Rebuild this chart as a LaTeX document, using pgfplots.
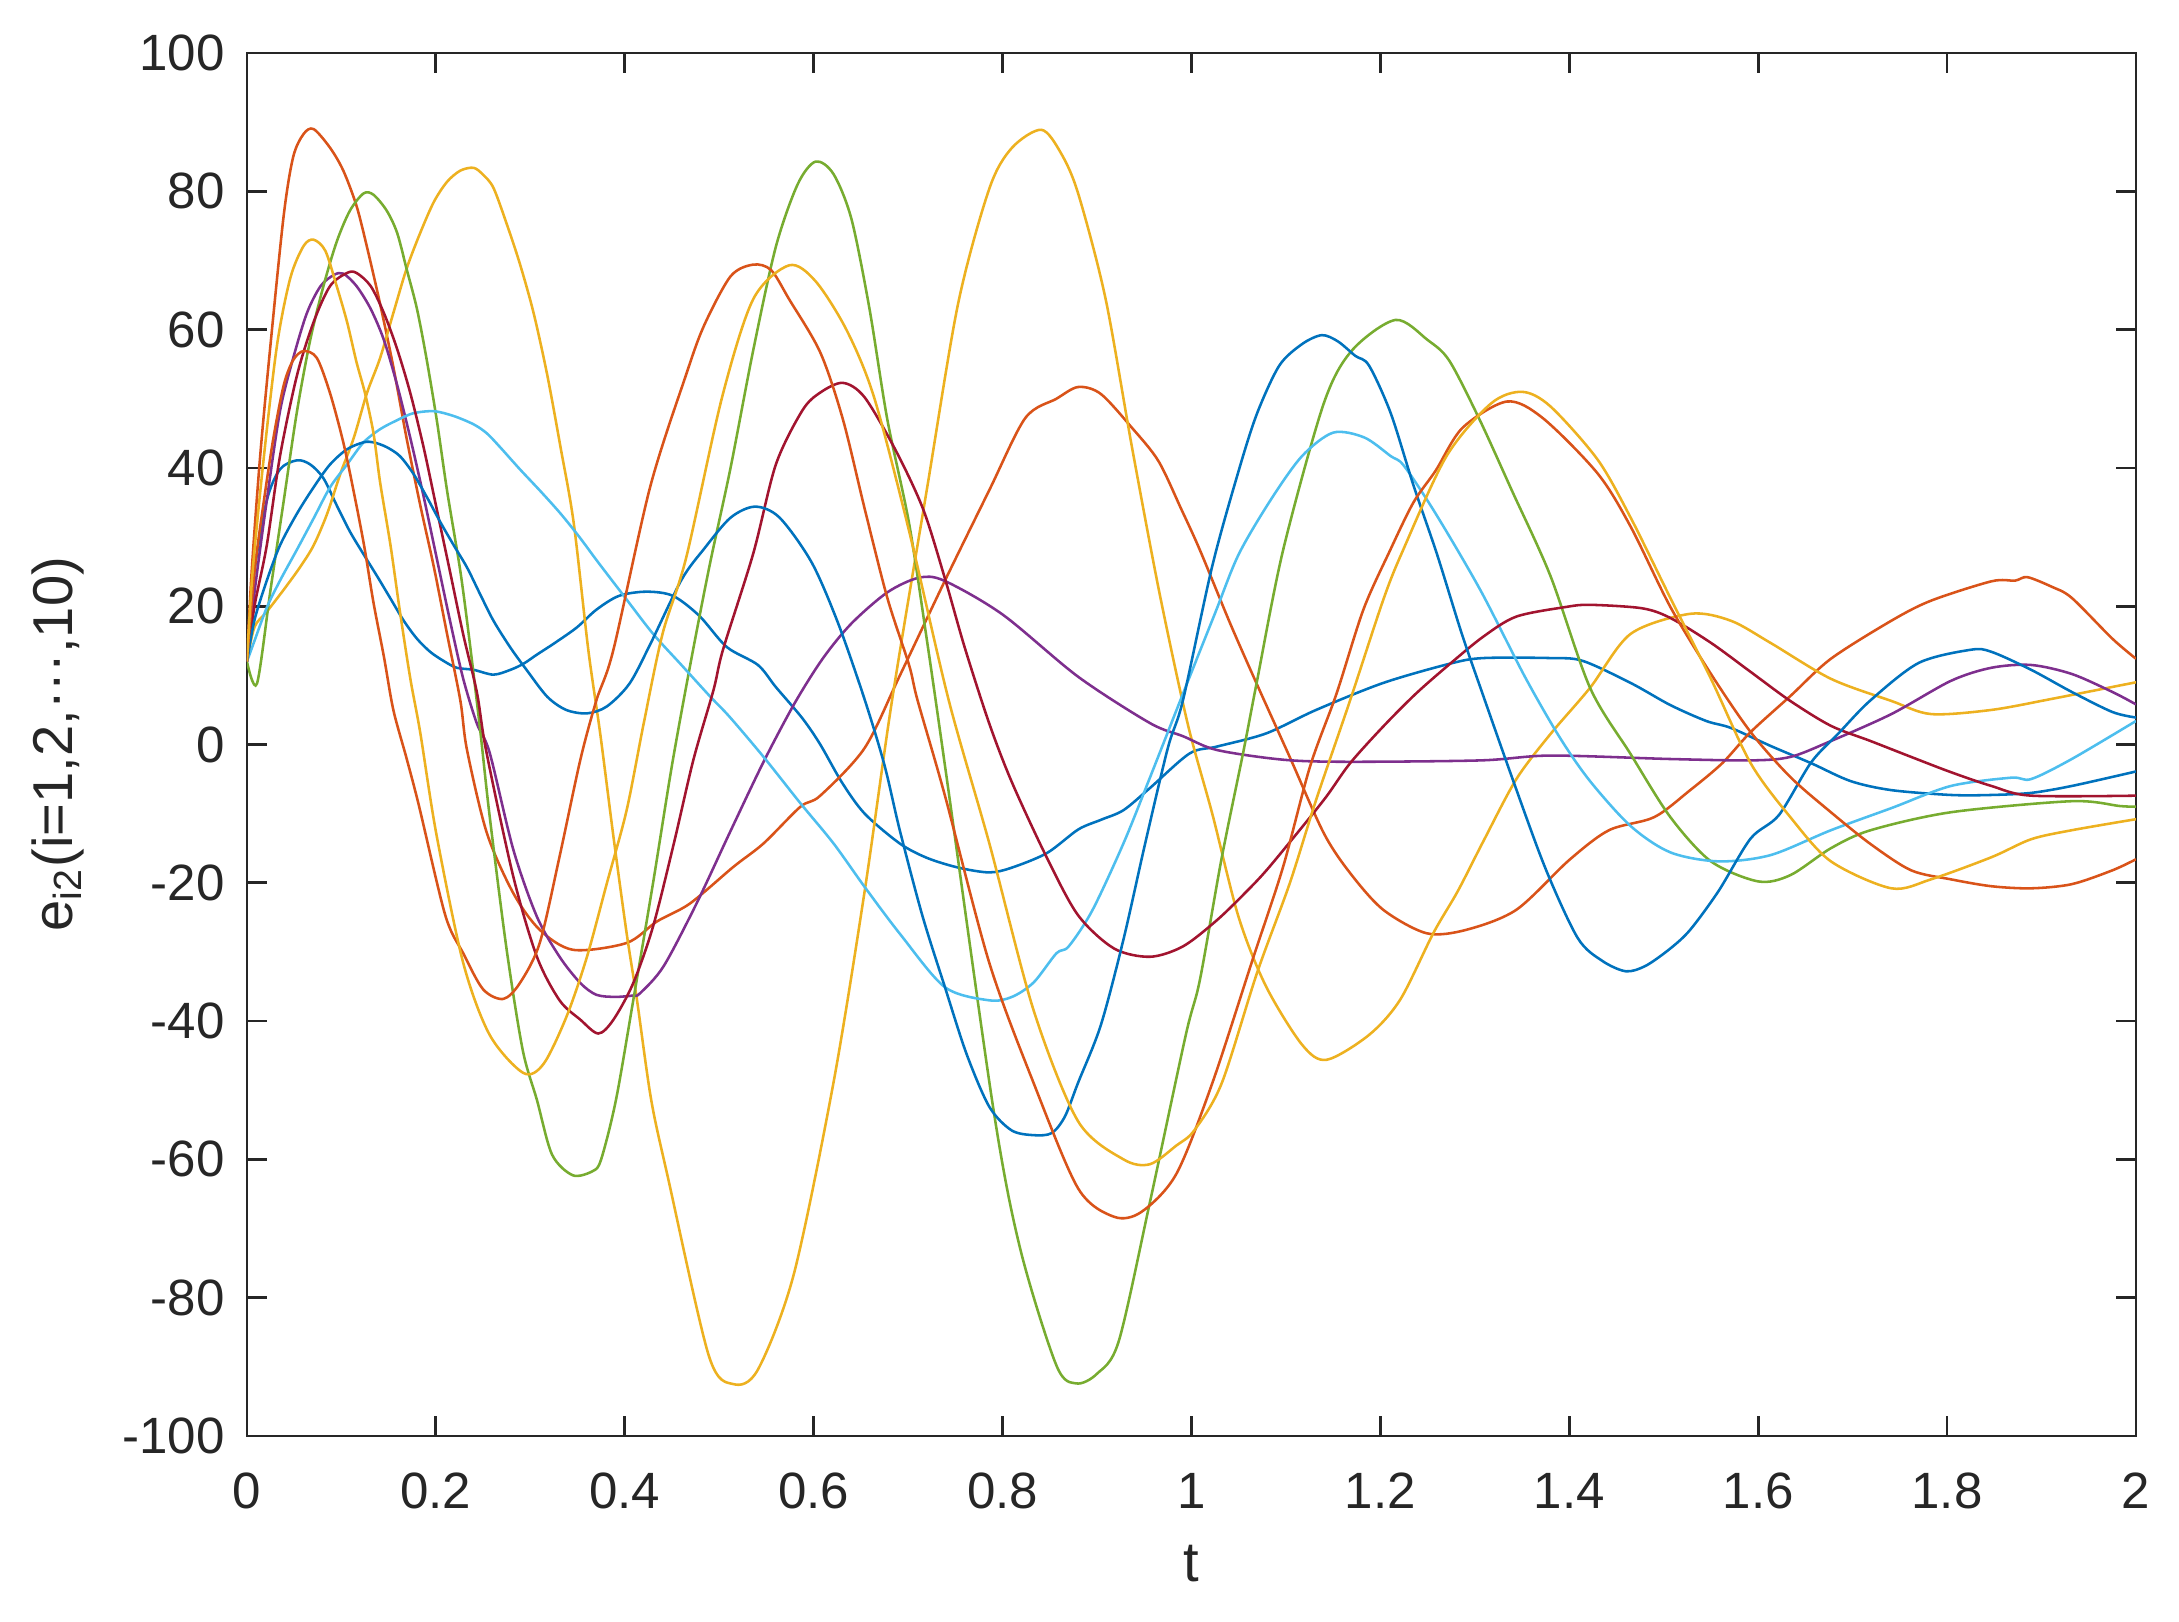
\documentclass[border=0pt]{standalone}
\usepackage{fontspec}
\setmainfont{Liberation Sans}
\usepackage{pgfplots}
\pgfplotsset{compat=1.18}

% MATLAB default line colours
\definecolor{c1}{rgb}{0,0.447,0.741}
\definecolor{c2}{rgb}{0.85,0.325,0.098}
\definecolor{c3}{rgb}{0.929,0.694,0.125}
\definecolor{c4}{rgb}{0.494,0.184,0.556}
\definecolor{c5}{rgb}{0.466,0.674,0.188}
\definecolor{c6}{rgb}{0.301,0.745,0.933}
\definecolor{c7}{rgb}{0.635,0.078,0.184}
\definecolor{axgray}{rgb}{0.15,0.15,0.15}

\begin{document}
\begin{tikzpicture}
\begin{axis}[
  scale only axis, width=130.04mm, height=95.2mm,
  xmin=0, xmax=2, ymin=-100, ymax=100,
  xtick={0,0.2,0.4,0.6,0.8,1,1.2,1.4,1.6,1.8,2},
  ytick={-100,-80,-60,-40,-20,0,20,40,60,80,100},
  xtick pos=both, ytick pos=both, tick align=inside,
  major tick length=1.38mm,
  axis line style={axgray, line width=0.55pt},
  tick style={axgray, line width=0.55pt},
  /pgf/number format/assume math mode=true,
  ticklabel style={font=\fontsize{10}{12}\selectfont, text=axgray},
  xticklabel style={yshift=-1.3mm},
  yticklabel style={xshift=-0.3mm},
  xlabel={t},
  ylabel={e\textsubscript{i2}(i=1,2,\textperiodcentered\textperiodcentered\textperiodcentered,10)},
  label style={font=\fontsize{11}{13}\selectfont, text=axgray},
  xlabel style={at={(axis description cs:0.5,-0.092)}, anchor=center},
  ylabel style={at={(axis description cs:-0.1,0.5)}, anchor=center},
  every axis plot/.style={line width=0.5pt, mark=none, smooth, tension=0.5},
]
% 1 blue
\addplot[c1] coordinates {(0,12) (0.008,25) (0.021,35.3) (0.035,39.8) (0.053,41.1) (0.067,40.5) (0.081,38.5) (0.095,34.6) (0.109,30.8) (0.1235,27.5) (0.138,24.3) (0.152,21.1) (0.166,17.9) (0.18,15.3) (0.194,13.4) (0.208,12.1) (0.222,11.1) (0.24,10.8) (0.261,10.1) (0.279,10.8) (0.293,11.7) (0.307,13) (0.325,14.6) (0.349,16.9) (0.37,19.5) (0.394,21.5) (0.423,22.1) (0.451,21.5) (0.479,18.6) (0.508,14.1) (0.541,11.5) (0.56,8.3) (0.588,3.8) (0.607,0) (0.63,-5.5) (0.654,-10) (0.691,-14.3) (0.72,-16.4) (0.753,-17.8) (0.786,-18.5) (0.81,-17.8) (0.847,-15.7) (0.88,-12.3) (0.904,-10.9) (0.928,-9.5) (0.956,-6.3) (0.998,-1.3) (1.027,-0.3) (1.079,1.6) (1.132,5) (1.203,8.9) (1.274,11.7) (1.309,12.5) (1.38,12.5) (1.414,12.1) (1.465,8.9) (1.507,5.7) (1.545,3.4) (1.571,2.4) (1.613,-0.2) (1.656,-2.7) (1.698,-5.3) (1.741,-6.6) (1.804,-7.3) (1.847,-7.3) (1.889,-7) (1.932,-6) (2.0,-3.9)};
% 2 orange
\addplot[c2] coordinates {(0,12) (0.005,25) (0.014,41.7) (0.025,57.9) (0.039,76.6) (0.049,85) (0.06,88.3) (0.0706,89) (0.088,86.3) (0.102,83) (0.116,77.9) (0.127,72) (0.141,63.7) (0.155,54.6) (0.169,44.3) (0.1835,34.6) (0.198,25.6) (0.212,15.9) (0.226,6.3) (0.233,-0.8) (0.254,-12.8) (0.282,-21.5) (0.31,-26.8) (0.3455,-29.7) (0.402,-28.7) (0.434,-25.6) (0.469,-23) (0.515,-17.7) (0.547,-14.3) (0.586,-9) (0.607,-7.4) (0.654,-0.5) (0.691,9.9) (0.739,23.7) (0.786,36.8) (0.824,47.2) (0.857,50) (0.88,51.7) (0.904,50.7) (0.937,45.8) (0.965,41) (0.989,34.1) (1.009,28.1) (1.041,17.5) (1.069,8.8) (1.104,-1.8) (1.14,-12.8) (1.168,-18.6) (1.203,-23.9) (1.249,-27.3) (1.291,-26.8) (1.344,-23.9) (1.4,-16.7) (1.442,-12.4) (1.49,-10.5) (1.528,-6.6) (1.562,-2.7) (1.592,1.8) (1.634,7) (1.677,12.4) (1.741,17.9) (1.783,20.8) (1.847,23.6) (1.872,23.7) (1.885,24.2) (1.911,22.8) (1.932,21.2) (1.975,15.3) (2.0,12.4)};
% 3 yellow
\addplot[c3] coordinates {(0,12) (0.008,17) (0.021,19.2) (0.039,22.4) (0.056,25.6) (0.0706,28.8) (0.085,33.4) (0.099,39.2) (0.113,44.3) (0.127,50.8) (0.141,55.9) (0.155,62.4) (0.169,68.8) (0.1835,74) (0.198,78.5) (0.212,81.4) (0.226,83) (0.24,83.4) (0.25,82.4) (0.261,80.5) (0.275,75.3) (0.289,69.5) (0.3035,62.4) (0.318,53.4) (0.332,43) (0.346,32) (0.3614,13.7) (0.374,1.6) (0.388,-13.3) (0.402,-27.3) (0.413,-37) (0.428,-51.4) (0.446,-62.8) (0.489,-88.4) (0.515,-92.5) (0.541,-90.4) (0.579,-76.6) (0.621,-48.9) (0.654,-21.2) (0.683,6.4) (0.72,37) (0.753,63.8) (0.786,80.4) (0.81,86.3) (0.841,88.9) (0.8615,85.6) (0.88,79.7) (0.909,64.5) (0.937,43) (0.966,22) (0.996,3) (1.022,-10) (1.05,-25) (1.079,-35) (1.117,-43.4) (1.143,-45.6) (1.188,-42) (1.221,-36.9) (1.256,-27.3) (1.282,-21.2) (1.309,-14) (1.344,-5) (1.38,1.5) (1.422,8.2) (1.465,16) (1.528,18.9) (1.571,17.9) (1.613,14.7) (1.677,9.5) (1.741,6.3) (1.783,4.4) (1.847,5) (1.911,6.6) (2.0,9.0)};
% 4 purple
\addplot[c4] coordinates {(0,12) (0.008,22) (0.021,35.3) (0.035,48.2) (0.049,55.9) (0.0635,62.4) (0.078,66.3) (0.092,67.9) (0.102,68.1) (0.116,66.3) (0.131,63) (0.145,58.5) (0.159,52) (0.173,44.3) (0.187,35.9) (0.201,26.9) (0.215,17.9) (0.229,9.5) (0.2435,3) (0.257,-1.2) (0.282,-15.2) (0.307,-24.9) (0.331,-30.7) (0.353,-34.5) (0.37,-36.2) (0.39,-36.5) (0.409,-36.3) (0.416,-36) (0.441,-32.1) (0.476,-23) (0.511,-12.8) (0.547,-2.5) (0.58,6) (0.61,12.5) (0.64,17.5) (0.678,22) (0.711,24.1) (0.738,23.7) (0.8,18.8) (0.88,9.8) (0.956,3.1) (0.991,1.2) (1.027,-0.8) (1.097,-2.2) (1.164,-2.5) (1.306,-2.3) (1.38,-1.6) (1.507,-2.1) (1.592,-2.3) (1.634,-1.8) (1.677,0.5) (1.741,4.4) (1.804,9.2) (1.847,11.1) (1.889,11.5) (1.932,10.2) (1.975,7.6) (2.0,5.8)};
% 5 green
\addplot[c5] coordinates {(0,12) (0.0106,8.8) (0.025,22.4) (0.039,35.3) (0.053,48.2) (0.067,58.5) (0.081,66.3) (0.095,72.7) (0.109,77.2) (0.1235,79.7) (0.134,79.5) (0.148,77.2) (0.159,74) (0.169,68.8) (0.18,63) (0.19,55.9) (0.201,46.9) (0.212,36.6) (0.226,25) (0.236,14.6) (0.247,2) (0.257,-10.4) (0.275,-29.7) (0.292,-44.2) (0.307,-51.4) (0.323,-59.3) (0.345,-62.3) (0.366,-61.7) (0.375,-60) (0.3907,-51.4) (0.409,-37) (0.43,-20) (0.45,-3) (0.47,12) (0.49,26) (0.512,40) (0.536,57) (0.56,72) (0.583,81) (0.602,84.3) (0.621,82.5) (0.64,76) (0.659,63.1) (0.678,47) (0.701,32) (0.72,15) (0.74,-4) (0.7906,-53) (0.819,-73.1) (0.857,-89.8) (0.878,-92.4) (0.9,-91) (0.923,-86.3) (0.956,-66.2) (0.994,-42) (1.009,-34) (1.032,-16.4) (1.055,-1) (1.069,8.9) (1.097,28.1) (1.14,49.3) (1.17,57) (1.216,61.4) (1.25,58.5) (1.273,55.5) (1.305,47) (1.339,36.8) (1.38,24.4) (1.422,8.2) (1.465,-1.4) (1.507,-10.5) (1.55,-16.9) (1.6,-19.8) (1.634,-18.9) (1.677,-15) (1.719,-12.4) (1.804,-9.8) (1.932,-8.2) (1.983,-8.9) (2.0,-9)};
% 6 light blue
\addplot[c6] coordinates {(0,12) (0.008,15) (0.021,19.8) (0.035,23.7) (0.053,28.2) (0.0706,32.7) (0.088,37.2) (0.106,40.5) (0.1235,43.7) (0.141,45.6) (0.159,46.9) (0.176,47.9) (0.198,48.2) (0.219,47.5) (0.24,46.3) (0.254,45) (0.268,43) (0.289,39.8) (0.311,36.6) (0.332,33.4) (0.352,30) (0.371,26.5) (0.399,21.5) (0.43,16) (0.46,11.5) (0.49,7) (0.511,4) (0.547,-1.8) (0.586,-8.5) (0.621,-14.3) (0.654,-20.6) (0.692,-27.5) (0.739,-35.1) (0.786,-37) (0.81,-36.5) (0.833,-34.4) (0.857,-30.2) (0.87,-29.2) (0.895,-24) (0.928,-14.3) (0.956,-4.8) (0.99,7) (1.025,19) (1.05,27.5) (1.084,35.4) (1.117,41.7) (1.15,45.1) (1.183,44.4) (1.211,41.7) (1.225,40.3) (1.2585,33.4) (1.306,22.3) (1.353,9.8) (1.39,1) (1.422,-5.3) (1.465,-11.8) (1.507,-15.6) (1.558,-16.9) (1.613,-16) (1.677,-12.4) (1.741,-9.2) (1.804,-6) (1.868,-4.8) (1.889,-5) (1.932,-2.1) (2.0,3.4)};
% 7 dark red
\addplot[c7] coordinates {(0,12) (0.008,20) (0.021,28.8) (0.035,41.7) (0.053,53.4) (0.0706,61.1) (0.088,66.3) (0.106,68.2) (0.116,68.2) (0.131,66.3) (0.145,62.4) (0.159,57.2) (0.173,50.8) (0.187,43) (0.201,34) (0.215,25) (0.229,15.9) (0.2435,7.5) (0.2534,-1) (0.282,-19.1) (0.307,-30.7) (0.331,-37) (0.353,-39.8) (0.372,-41.8) (0.388,-39.8) (0.409,-34.5) (0.43,-26.3) (0.452,-14.3) (0.4727,-2.2) (0.494,7.9) (0.504,13.7) (0.536,27.6) (0.56,40.5) (0.588,48.3) (0.607,50.9) (0.631,52.3) (0.654,50.2) (0.687,42.5) (0.716,34) (0.739,24) (0.76,14) (0.786,3) (0.81,-5.5) (0.847,-16.4) (0.88,-24.7) (0.918,-29.5) (0.956,-30.7) (0.991,-29.2) (1.027,-25.4) (1.058,-21.3) (1.08,-18.1) (1.115,-12.3) (1.143,-7.5) (1.168,-2.7) (1.203,2.6) (1.238,7.4) (1.274,11.7) (1.309,15.6) (1.344,18.5) (1.397,19.9) (1.422,20.2) (1.477,19.7) (1.507,18.3) (1.55,14.7) (1.592,10.5) (1.634,6.3) (1.677,2.7) (1.719,0.5) (1.762,-1.8) (1.804,-4) (1.847,-6) (1.889,-7.4) (2.0,-7.4)};
% 8 blue
\addplot[c1] coordinates {(0,12) (0.008,18) (0.021,23.7) (0.035,28.8) (0.053,33.4) (0.0706,37.2) (0.088,40.5) (0.106,42.7) (0.1235,43.7) (0.134,43.7) (0.148,43) (0.162,41.7) (0.176,39.2) (0.19,35.9) (0.205,32.1) (0.219,28.8) (0.233,25.6) (0.247,21.7) (0.261,17.9) (0.279,14) (0.296,10.8) (0.318,6.9) (0.338,5) (0.36,4.5) (0.381,5.5) (0.405,8.8) (0.427,14.5) (0.46,23.8) (0.484,28.3) (0.512,32.8) (0.538,34.4) (0.564,32.8) (0.598,26.3) (0.626,17.5) (0.654,6.5) (0.675,-3) (0.691,-12.3) (0.715,-24.7) (0.739,-35.1) (0.762,-44.8) (0.786,-52.4) (0.8095,-55.8) (0.833,-56.5) (0.852,-56.2) (0.866,-53.8) (0.88,-48.9) (0.904,-40.6) (0.928,-28.2) (0.951,-14.3) (0.975,-0.5) (0.991,6.4) (1.022,25.8) (1.05,39.6) (1.0695,47.9) (1.093,54.8) (1.117,57.9) (1.138,59.2) (1.155,58.3) (1.1735,56.2) (1.188,54.8) (1.211,47.9) (1.235,37.5) (1.26,27.5) (1.286,16.1) (1.307,7.8) (1.34,-5) (1.375,-18) (1.409,-28) (1.435,-31.3) (1.46,-32.8) (1.481,-32) (1.507,-29.5) (1.528,-26.8) (1.558,-21.2) (1.592,-13.6) (1.622,-10.2) (1.656,-2.6) (1.685,1.6) (1.719,6.4) (1.77,11.8) (1.825,13.7) (1.847,13.4) (1.889,10.8) (1.932,7.6) (1.975,4.7) (2.0,3.9)};
% 9 orange
\addplot[c2] coordinates {(0,12) (0.008,25) (0.018,35.3) (0.028,44.3) (0.039,52) (0.049,55.6) (0.06,56.9) (0.074,55.9) (0.088,50.8) (0.102,43.7) (0.113,36.6) (0.124,28.8) (0.134,20.5) (0.145,12.7) (0.155,5) (0.169,-2) (0.182,-8.8) (0.21,-24.7) (0.229,-30.2) (0.25,-35.4) (0.2714,-36.8) (0.289,-34.5) (0.31,-28.7) (0.331,-16.2) (0.353,-2.2) (0.37,6.4) (0.388,13.7) (0.427,37.3) (0.465,53.5) (0.484,60.6) (0.512,67.7) (0.536,69.4) (0.555,68.6) (0.574,64.4) (0.607,56.7) (0.631,47) (0.654,34.1) (0.678,21.2) (0.701,11.5) (0.71,6.4) (0.739,-7.4) (0.786,-31.6) (0.833,-49) (0.88,-64.2) (0.918,-68.3) (0.947,-67.6) (0.984,-62.1) (1.022,-49) (1.065,-31) (1.097,-17.7) (1.1255,-3.2) (1.1537,7.4) (1.182,19.5) (1.21,28) (1.235,35) (1.2585,39.6) (1.287,45.8) (1.334,49.6) (1.372,47.2) (1.43,39.2) (1.465,31.5) (1.507,19.9) (1.55,10.2) (1.592,1.8) (1.634,-4.7) (1.677,-9.8) (1.719,-14.4) (1.762,-18.2) (1.804,-19.5) (1.847,-20.5) (1.889,-20.8) (1.932,-20.2) (1.975,-18.2) (2.0,-16.6)};
% 10 yellow
\addplot[c3] coordinates {(0,12) (0.006,25) (0.018,41.7) (0.032,57.9) (0.046,67.5) (0.06,72.1) (0.0706,73) (0.083,71.4) (0.095,66.3) (0.106,61.1) (0.116,55.3) (0.125,50.8) (0.134,45) (0.141,37.9) (0.152,28.8) (0.162,19.2) (0.173,9.5) (0.1835,1.7) (0.2006,-13) (0.229,-31.6) (0.257,-42) (0.2926,-47.5) (0.314,-46.2) (0.3385,-39.3) (0.36,-30.7) (0.381,-20.1) (0.402,-9.5) (0.42,3) (0.44,16) (0.465,27) (0.503,50.2) (0.536,64.4) (0.574,69.3) (0.602,67) (0.635,59.9) (0.664,50.2) (0.701,30.9) (0.743,6.4) (0.786,-14.3) (0.833,-38.5) (0.88,-54.5) (0.928,-60) (0.956,-60.7) (0.984,-58) (1.003,-55.8) (1.032,-49) (1.0695,-33) (1.104,-20.1) (1.132,-8) (1.168,6.4) (1.203,20.9) (1.224,28.1) (1.27,41.7) (1.317,49.3) (1.35,51) (1.38,48.9) (1.43,41.2) (1.465,32.8) (1.507,21.2) (1.55,9.5) (1.592,-2.7) (1.634,-10.5) (1.677,-16.9) (1.741,-20.8) (1.783,-19.5) (1.847,-16.3) (1.889,-13.7) (1.932,-12.4) (2.0,-10.8)};
\end{axis}
% page frame matching the reference margins
\path ([xshift=-17.0mm,yshift=-12.8mm]current axis.south west) rectangle ([xshift=2.96mm,yshift=3.65mm]current axis.north east);
\end{tikzpicture}
\end{document}
